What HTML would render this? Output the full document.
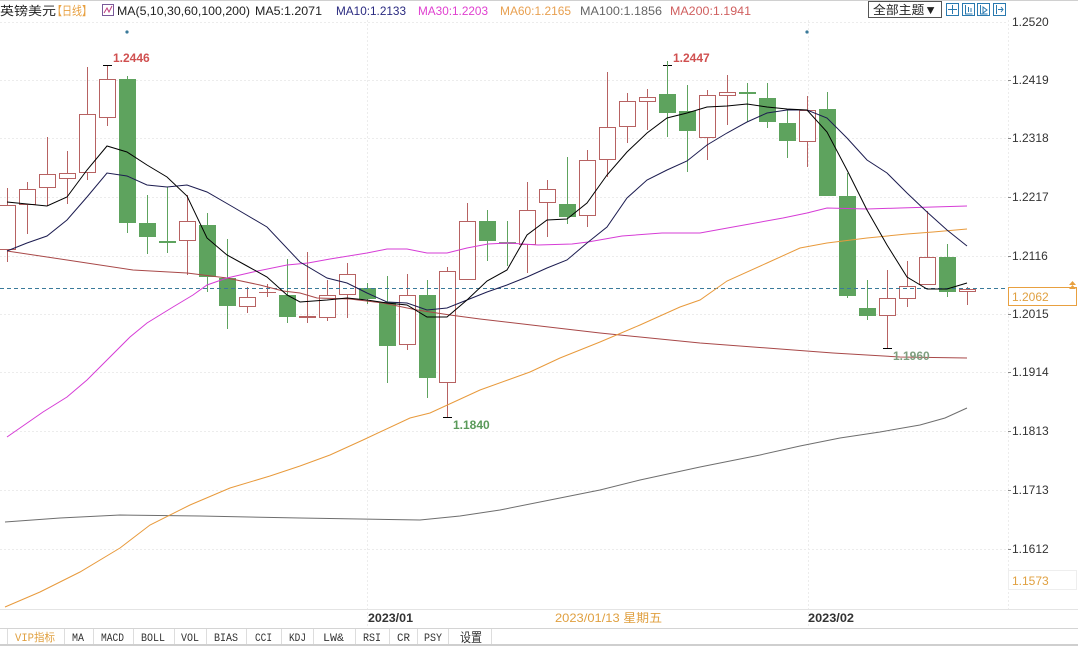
<!DOCTYPE html>
<html><head><meta charset="utf-8">
<style>
html,body{margin:0;padding:0;background:#fff;}
body{width:1078px;height:647px;overflow:hidden;}
svg{display:block;}
text{font-family:"Liberation Sans","Noto Sans CJK SC",sans-serif;}
.tb{font-family:"Liberation Mono","Noto Sans CJK SC",monospace;font-size:11px;fill:#333;}
</style></head><body>
<svg width="1078" height="647" viewBox="0 0 1078 647" xmlns="http://www.w3.org/2000/svg">
<rect x="0" y="0" width="1078" height="647" fill="#fff"/>
<line x1="0" y1="0.5" x2="1078" y2="0.5" stroke="#d0d0d0"/>
<!-- grid -->
<g stroke="#ececec" stroke-dasharray="2,2">
<line x1="0" y1="22.5" x2="1008" y2="22.5"/>
<line x1="0" y1="80.5" x2="1008" y2="80.5"/>
<line x1="0" y1="138.5" x2="1008" y2="138.5"/>
<line x1="0" y1="197.5" x2="1008" y2="197.5"/>
<line x1="0" y1="256.5" x2="1008" y2="256.5"/>
<line x1="0" y1="314.5" x2="1008" y2="314.5"/>
<line x1="0" y1="372.5" x2="1008" y2="372.5"/>
<line x1="0" y1="431.5" x2="1008" y2="431.5"/>
<line x1="0" y1="490.5" x2="1008" y2="490.5"/>
<line x1="0" y1="549.5" x2="1008" y2="549.5"/>
<line x1="367.5" y1="20" x2="367.5" y2="629"/>
<line x1="808.5" y1="20" x2="808.5" y2="629"/>
<line x1="1008.5" y1="20" x2="1008.5" y2="609"/>
</g>
<!-- top legend -->
<text x="0" y="15" font-size="12" fill="#222" textLength="56" lengthAdjust="spacingAndGlyphs">英镑美元</text>
<text x="52" y="15" font-size="12" fill="#e8a040" textLength="40" lengthAdjust="spacingAndGlyphs">【日线】</text>
<rect x="102.5" y="4.5" width="11" height="11" fill="#fff" stroke="#7a5a9a"/>
<polyline points="104,13 107,8 109,12 112,6" fill="none" stroke="#c04080" stroke-width="1"/>
<text x="117" y="15" font-size="12" fill="#222" textLength="133" lengthAdjust="spacingAndGlyphs">MA(5,10,30,60,100,200)</text>
<text x="255" y="15" font-size="12" fill="#222" textLength="67" lengthAdjust="spacingAndGlyphs">MA5:1.2071</text>
<text x="336" y="15" font-size="12" fill="#2a2a80" textLength="70" lengthAdjust="spacingAndGlyphs">MA10:1.2133</text>
<text x="418" y="15" font-size="12" fill="#e040d0" textLength="70" lengthAdjust="spacingAndGlyphs">MA30:1.2203</text>
<text x="500" y="15" font-size="12" fill="#e8a050" textLength="71" lengthAdjust="spacingAndGlyphs">MA60:1.2165</text>
<text x="580" y="15" font-size="12" fill="#666" textLength="82" lengthAdjust="spacingAndGlyphs">MA100:1.1856</text>
<text x="670" y="15" font-size="12" fill="#d06060" textLength="81" lengthAdjust="spacingAndGlyphs">MA200:1.1941</text>
<rect x="868.5" y="1.5" width="73" height="16" fill="#fff" stroke="#555"/>
<text x="873" y="14" font-size="12" fill="#222" textLength="64" lengthAdjust="spacingAndGlyphs">全部主题▼</text>
<g fill="#fff" stroke="#2a7ab0">
<rect x="946.5" y="3.5" width="12" height="12"/>
<rect x="962.5" y="3.5" width="12" height="12"/>
<rect x="977.5" y="3.5" width="12" height="12"/>
<rect x="993.5" y="3.5" width="12" height="12"/>
</g>
<g stroke="#2a7ab0" fill="none">
<path d="M952.5 5v9M948 9.5h9"/>
<path d="M965.5 5v9h7M968.5 7v5M971 8v4"/>
<path d="M980.5 5v9h7M983 7l4 3-4 3z"/>
<path d="M996.5 5v9M998 9.5h5M1001 7l2 2.5-2 2.5"/>
</g>
<circle cx="127" cy="32" r="1.6" fill="#3a7a9a"/>
<circle cx="807" cy="32" r="1.6" fill="#3a7a9a"/>

<!-- candles -->
<g stroke="#b76262" fill="#fff" shape-rendering="crispEdges">
<line x1="7.5" y1="188" x2="7.5" y2="262"/><rect x="-0.5" y="205.5" width="16" height="44"/>
<line x1="27.5" y1="182" x2="27.5" y2="234"/><rect x="19.5" y="189.5" width="16" height="15"/>
<line x1="47.5" y1="137" x2="47.5" y2="206"/><rect x="39.5" y="174.5" width="16" height="13"/>
<line x1="67.5" y1="151" x2="67.5" y2="204"/><rect x="59.5" y="173.5" width="16" height="5"/>
<line x1="87.5" y1="67" x2="87.5" y2="180"/><rect x="79.5" y="114.5" width="16" height="58"/>
<line x1="107.5" y1="65" x2="107.5" y2="126"/><rect x="99.5" y="79.5" width="16" height="38"/>
<line x1="187.5" y1="195" x2="187.5" y2="275"/><rect x="179.5" y="221.5" width="16" height="19"/>
<line x1="247.5" y1="287" x2="247.5" y2="313"/><rect x="239.5" y="297.5" width="16" height="9"/>
<line x1="267.5" y1="284" x2="267.5" y2="297"/><line x1="259" y1="292.5" x2="276" y2="292.5"/>
<line x1="307.5" y1="252" x2="307.5" y2="323"/><rect x="299" y="316" width="17" height="2" fill="#b76262" stroke="none"/>
<line x1="327.5" y1="280" x2="327.5" y2="321"/><rect x="319.5" y="295.5" width="16" height="22"/>
<line x1="347.5" y1="263" x2="347.5" y2="318"/><rect x="339.5" y="274.5" width="16" height="20"/>
<line x1="407.5" y1="274" x2="407.5" y2="350"/><rect x="399.5" y="295.5" width="16" height="49"/>
<line x1="447.5" y1="267" x2="447.5" y2="417"/><rect x="439.5" y="271.5" width="16" height="111"/>
<line x1="467.5" y1="203" x2="467.5" y2="279"/><rect x="459.5" y="221.5" width="16" height="58"/>
<line x1="527.5" y1="182" x2="527.5" y2="273"/><rect x="519.5" y="210.5" width="16" height="34"/>
<line x1="547.5" y1="180" x2="547.5" y2="237"/><rect x="539.5" y="189.5" width="16" height="13"/>
<line x1="587.5" y1="150" x2="587.5" y2="227"/><rect x="579.5" y="160.5" width="16" height="55"/>
<line x1="607.5" y1="72" x2="607.5" y2="177"/><rect x="599.5" y="127.5" width="16" height="32"/>
<line x1="627.5" y1="93" x2="627.5" y2="143"/><rect x="619.5" y="101.5" width="16" height="25"/>
<line x1="647.5" y1="89" x2="647.5" y2="130"/><rect x="639.5" y="97.5" width="16" height="4"/>
<line x1="707.5" y1="90" x2="707.5" y2="160"/><rect x="699.5" y="95.5" width="16" height="42"/>
<line x1="727.5" y1="75" x2="727.5" y2="125"/><rect x="719.5" y="92.5" width="16" height="3"/>
<line x1="807.5" y1="96" x2="807.5" y2="167"/><rect x="799.5" y="110.5" width="16" height="31"/>
<line x1="887.5" y1="270" x2="887.5" y2="348"/><rect x="879.5" y="298.5" width="16" height="17"/>
<line x1="907.5" y1="261" x2="907.5" y2="307"/><rect x="899.5" y="286.5" width="16" height="12"/>
<line x1="927.5" y1="211" x2="927.5" y2="284"/><rect x="919.5" y="257.5" width="16" height="27"/>
<line x1="967.5" y1="287" x2="967.5" y2="305"/><rect x="959.5" y="289.5" width="16" height="2"/>
</g>
<g stroke="#5ea35e" fill="#5ea35e" shape-rendering="crispEdges">
<line x1="127.5" y1="76" x2="127.5" y2="233"/><rect x="119" y="79" width="17" height="144" stroke="none"/>
<line x1="147.5" y1="195" x2="147.5" y2="254"/><rect x="139" y="223" width="17" height="14" stroke="none"/>
<line x1="167.5" y1="187" x2="167.5" y2="253"/><rect x="159" y="241" width="17" height="2" stroke="none"/>
<line x1="207.5" y1="213" x2="207.5" y2="292"/><rect x="199" y="225" width="17" height="52" stroke="none"/>
<line x1="227.5" y1="239" x2="227.5" y2="329"/><rect x="219" y="278" width="17" height="28" stroke="none"/>
<line x1="287.5" y1="259" x2="287.5" y2="323"/><rect x="279" y="295" width="17" height="22" stroke="none"/>
<line x1="367.5" y1="283" x2="367.5" y2="304"/><rect x="359" y="288" width="17" height="11" stroke="none"/>
<line x1="387.5" y1="276" x2="387.5" y2="383"/><rect x="379" y="302" width="17" height="44" stroke="none"/>
<line x1="427.5" y1="280" x2="427.5" y2="398"/><rect x="419" y="295" width="17" height="83" stroke="none"/>
<line x1="487.5" y1="210" x2="487.5" y2="261"/><rect x="479" y="221" width="17" height="20" stroke="none"/>
<line x1="507.5" y1="221" x2="507.5" y2="266"/><rect x="499" y="242" width="17" height="2" stroke="none" fill="#7f9f7f"/>
<line x1="567.5" y1="157" x2="567.5" y2="224"/><rect x="559" y="204" width="17" height="13" stroke="none"/>
<line x1="667.5" y1="65" x2="667.5" y2="137"/><rect x="659" y="94" width="17" height="19" stroke="none"/>
<line x1="687.5" y1="85" x2="687.5" y2="172"/><rect x="679" y="111" width="17" height="20" stroke="none"/>
<line x1="747.5" y1="83" x2="747.5" y2="122"/><rect x="739" y="92" width="17" height="2" stroke="none"/>
<line x1="767.5" y1="83" x2="767.5" y2="128"/><rect x="759" y="98" width="17" height="24" stroke="none"/>
<line x1="787.5" y1="110" x2="787.5" y2="158"/><rect x="779" y="123" width="17" height="18" stroke="none"/>
<line x1="827.5" y1="92" x2="827.5" y2="196"/><rect x="819" y="109" width="17" height="87" stroke="none"/>
<line x1="847.5" y1="173" x2="847.5" y2="298"/><rect x="839" y="196" width="17" height="100" stroke="none"/>
<line x1="867.5" y1="280" x2="867.5" y2="320"/><rect x="859" y="308" width="17" height="8" stroke="none"/>
<line x1="947.5" y1="244" x2="947.5" y2="297"/><rect x="939" y="257" width="17" height="35" stroke="none"/>
</g>

<!-- current price dashed line -->
<line x1="0" y1="288.5" x2="1008" y2="288.5" stroke="#3a7a9a" stroke-dasharray="4,3"/>

<!-- moving averages -->
<g fill="none" stroke-width="1">
<polyline stroke="#6e6e6e" points="5,522 60,518 120,515 200,516 300,518 420,520 460,516 500,510 560,498 600,490 640,480 700,467 760,455 800,446 840,438 880,432 920,425 945,418 967,408"/>
<polyline stroke="#a84848" points="7,251 67,260 133,270 187,273 227,278 260,285 283,291 300,293 317,298 350,299 383,303 417,310 450,315 480,319 540,326 600,333 650,338 700,343 767,348 833,353 900,357 967,358"/>
<polyline stroke="#e89a3c" points="5,607 40,592 80,572 120,548 150,525 190,505 230,488 270,476 300,466 330,455 363,440 410,418 430,413 480,390 530,372 560,358 600,342 640,325 680,307 700,300 727,281 767,263 800,248 827,243 867,238 907,234 933,232 967,229"/>
<polyline stroke="#d63cd6" points="7,437 43,412 67,397 87,380 107,360 130,337 147,323 173,307 193,295 207,285 227,278 253,272 287,265 308,263 330,259 367,253 387,249 407,249 427,253 447,253 467,248 488,244 508,243 538,245 572,244 588,242 622,236 662,233 700,233 733,227 783,218 807,213 827,208 867,209 900,208 933,207 967,206"/>
<polyline stroke="#1c1c50" points="7,251 27,243 47,236 67,220 87,197 107,173 127,176 147,185 167,187 187,185 207,192 233,207 267,227 300,262 327,278 347,283 367,293 387,302 407,303 427,310 447,308 467,300 487,292 507,285 527,277 547,268 567,260 587,243 607,227 627,198 647,180 667,170 687,161 707,145 727,133 747,122 767,113 787,110 807,110 827,118 847,138 867,160 887,173 907,193 927,212 947,230 967,246"/>
<polyline stroke="#000" points="7,202 27,204 47,206 67,197 87,170 107,146 127,152 147,165 167,177 187,196 207,238 227,255 247,266 267,277 287,295 300,302 327,300 347,298 367,300 387,303 407,305 427,317 447,317 467,300 487,281 507,270 527,235 547,220 567,219 587,203 607,175 627,152 647,133 667,118 687,113 707,107 727,106 747,104 767,107 787,109 807,110 827,132 847,170 867,210 887,245 907,277 927,289 947,289 967,283"/>
</g>

<!-- high/low markers -->
<g stroke="#000" shape-rendering="crispEdges">
<line x1="103" y1="65.5" x2="112" y2="65.5"/>
<line x1="663" y1="65.5" x2="672" y2="65.5"/>
<line x1="443" y1="417.5" x2="452" y2="417.5"/>
<line x1="883" y1="348.5" x2="892" y2="348.5"/>
<line x1="667.5" y1="61" x2="667.5" y2="66" stroke="#5ea35e"/>
</g>
<text x="113" y="62" font-size="12" font-weight="bold" fill="#d05050">1.2446</text>
<text x="673" y="62" font-size="12" font-weight="bold" fill="#d05050">1.2447</text>
<text x="453" y="429" font-size="12" font-weight="bold" fill="#5a9a5a">1.1840</text>
<text x="893" y="360" font-size="12" font-weight="bold" fill="#7f9f7f">1.1960</text>

<!-- right axis -->
<g font-size="12" fill="#333">
<text x="1012" y="26">1.2520</text>
<text x="1012" y="84">1.2419</text>
<text x="1012" y="142">1.2318</text>
<text x="1012" y="201">1.2217</text>
<text x="1012" y="260">1.2116</text>
<text x="1012" y="318">1.2015</text>
<text x="1012" y="376">1.1914</text>
<text x="1012" y="435">1.1813</text>
<text x="1012" y="494">1.1713</text>
<text x="1012" y="553">1.1612</text>
</g>
<g stroke="#888" shape-rendering="crispEdges">
<line x1="1008" y1="80.5" x2="1011" y2="80.5"/>
<line x1="1008" y1="138.5" x2="1011" y2="138.5"/>
<line x1="1008" y1="197.5" x2="1011" y2="197.5"/>
<line x1="1008" y1="256.5" x2="1011" y2="256.5"/>
<line x1="1008" y1="314.5" x2="1011" y2="314.5"/>
<line x1="1008" y1="372.5" x2="1011" y2="372.5"/>
<line x1="1008" y1="431.5" x2="1011" y2="431.5"/>
<line x1="1008" y1="490.5" x2="1011" y2="490.5"/>
<line x1="1008" y1="549.5" x2="1011" y2="549.5"/>
</g>
<rect x="1008.5" y="287.5" width="68" height="18" fill="#fff" stroke="#e8a040"/>
<text x="1012" y="301" font-size="12" fill="#e0a040">1.2062</text>
<path d="M1069 289l3.5-4 3.5 4z M1069 285l3.5-4 3.5 4z" fill="#e8a040"/>
<rect x="1008.5" y="570.5" width="68" height="19" fill="#fff" stroke="#eeeeee"/>
<text x="1012" y="585" font-size="12" fill="#e0a040">1.1573</text>

<!-- date row -->
<line x1="0" y1="609.5" x2="1078" y2="609.5" stroke="#e4e4e4"/>
<text x="368" y="622" font-size="12" font-weight="bold" fill="#333" textLength="45" lengthAdjust="spacingAndGlyphs">2023/01</text>
<text x="555" y="622" font-size="12" fill="#e0a040" textLength="107" lengthAdjust="spacingAndGlyphs">2023/01/13 星期五</text>
<text x="808" y="622" font-size="12" font-weight="bold" fill="#333" textLength="46" lengthAdjust="spacingAndGlyphs">2023/02</text>

<!-- toolbar -->
<line x1="0" y1="628.5" x2="1078" y2="628.5" stroke="#d4d4d4"/>
<line x1="0" y1="645" x2="1078" y2="645" stroke="#cfcfcf" stroke-width="2"/>
<g stroke="#dddddd" shape-rendering="crispEdges">
<line x1="7.5" y1="629" x2="7.5" y2="644"/>
<line x1="64.5" y1="629" x2="64.5" y2="644"/>
<line x1="93.5" y1="629" x2="93.5" y2="644"/>
<line x1="133.5" y1="629" x2="133.5" y2="644"/>
<line x1="174.5" y1="629" x2="174.5" y2="644"/>
<line x1="206.5" y1="629" x2="206.5" y2="644"/>
<line x1="246.5" y1="629" x2="246.5" y2="644"/>
<line x1="281.5" y1="629" x2="281.5" y2="644"/>
<line x1="313.5" y1="629" x2="313.5" y2="644"/>
<line x1="355.5" y1="629" x2="355.5" y2="644"/>
<line x1="389.5" y1="629" x2="389.5" y2="644"/>
<line x1="417.5" y1="629" x2="417.5" y2="644"/>
<line x1="448.5" y1="629" x2="448.5" y2="644"/>
<line x1="491.5" y1="629" x2="491.5" y2="644"/>
</g>
<text class="tb" x="15" y="641" style="fill:#e0a040" textLength="40" lengthAdjust="spacingAndGlyphs">VIP指标</text>
<text class="tb" x="72" y="641" textLength="12" lengthAdjust="spacingAndGlyphs">MA</text>
<text class="tb" x="101" y="641" textLength="23" lengthAdjust="spacingAndGlyphs">MACD</text>
<text class="tb" x="141" y="641" textLength="24" lengthAdjust="spacingAndGlyphs">BOLL</text>
<text class="tb" x="181" y="641" textLength="18" lengthAdjust="spacingAndGlyphs">VOL</text>
<text class="tb" x="214" y="641" textLength="24" lengthAdjust="spacingAndGlyphs">BIAS</text>
<text class="tb" x="255" y="641" textLength="17" lengthAdjust="spacingAndGlyphs">CCI</text>
<text class="tb" x="289" y="641" textLength="17" lengthAdjust="spacingAndGlyphs">KDJ</text>
<text class="tb" x="323" y="641" textLength="21" lengthAdjust="spacingAndGlyphs">LW&amp;</text>
<text class="tb" x="363" y="641" textLength="18" lengthAdjust="spacingAndGlyphs">RSI</text>
<text class="tb" x="397" y="641" textLength="13" lengthAdjust="spacingAndGlyphs">CR</text>
<text class="tb" x="424" y="641" textLength="18" lengthAdjust="spacingAndGlyphs">PSY</text>
<text class="tb" x="460" y="642" textLength="22" lengthAdjust="spacingAndGlyphs" style="font-size:13px">设置</text>
</svg>
</body></html>
